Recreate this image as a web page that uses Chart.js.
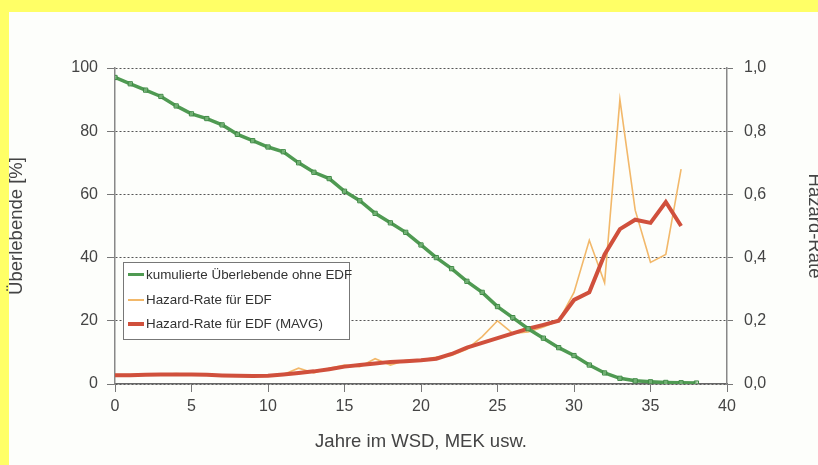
<!DOCTYPE html>
<html lang="de">
<head>
    <meta charset="UTF-8">
    <title>Überlebende und Hazard-Rate</title>
    <script src="https://cdn.jsdelivr.net/npm/chart.js"></script>
    <style>
        html, body {
            margin: 0;
            padding: 0;
            overflow: hidden;
            background: #ffff66; /* gelber Rand */
        }
        #panel {
            position: absolute;
            left: 9px;
            top: 12px;
            width: 830px;
            height: 460px;
            background: #fdfefb;
        }
        #chartBox {
            position: absolute;
            left: 0;
            top: 0;
        }
        #legend {
            position: absolute;
            left: 123px;
            top: 262px;
            width: 227px;
            height: 78px;
            border: 1px solid #777;
            background: #fff;
            font-family: 'Liberation Sans', Arial, sans-serif;
            font-size: 13.4px;
            color: #333;
            box-sizing: border-box;
            padding-top: 0px;
        }
        .row {
            height: 24.5px;
            line-height: 24.5px;
            white-space: nowrap;
            position: relative;
            padding-left: 22px;
        }
        .swatch {
            position: absolute;
            left: 4px;
            width: 16px;
            top: 12px;
        }
    </style>
</head>
<body>

    <div id="panel"></div>
    <div id="chartBox">
        <canvas id="myChart" width="830" height="465"></canvas>
    </div>
    <div id="legend"></div>

    <script>
        // Daten
        const jahre = [0, 1, 2, 3, 4, 5, 6, 7, 8, 9, 10, 11, 12, 13, 14, 15, 16, 17, 18, 19,
                       20, 21, 22, 23, 24, 25, 26, 27, 28, 29, 30, 31, 32, 33, 34, 35, 36, 37, 38];
        const ueberlebende = [97, 95, 93, 91, 88, 85.5, 84, 82, 79, 77, 75, 73.5, 70, 67, 65, 61, 58, 54, 51, 48,
                              44, 40, 36.5, 32.5, 29, 24.5, 21, 17.5, 14.5, 11.5, 9, 6, 3.5, 1.8, 1, 0.7, 0.5, 0.4, 0.3];
        const hazard = [0.03, 0.03, 0.032, 0.03, 0.033, 0.03, 0.028, 0.027, 0.025, 0.026, 0.028, 0.03, 0.05, 0.035, 0.05,
                        0.06, 0.055, 0.08, 0.06, 0.075, 0.075, 0.085, 0.09, 0.11, 0.15, 0.2, 0.16, 0.165, 0.18, 0.2,
                        0.29, 0.455, 0.32, 0.9, 0.55, 0.385, 0.41, 0.68];
        const hazardMavg = [0.028, 0.028, 0.029, 0.03, 0.03, 0.03, 0.029, 0.027, 0.026, 0.025, 0.026, 0.03, 0.035, 0.04, 0.047,
                            0.055, 0.06, 0.065, 0.07, 0.072, 0.075, 0.08, 0.095, 0.115, 0.13, 0.145, 0.16, 0.175, 0.187, 0.2,
                            0.266, 0.29, 0.41, 0.49, 0.52, 0.51, 0.576, 0.5];
        const xTicks = [0, 5, 10, 15, 20, 25, 30, 35, 40];
        const links = [0, 20, 40, 60, 80, 100];
        const rechts = ['0,0', '0,2', '0,4', '0,6', '0,8', '1,0'];

        const schrift = "'Liberation Sans', Arial, sans-serif";
        const gruen = '#4f9a52';
        const orange = '#f2b86a';
        const rot = '#d0503c';

        const punkte = (werte) => werte.map((v, i) => ({ x: jahre[i], y: v }));

        const ctx = document.getElementById('myChart').getContext('2d');
        const myChart = new Chart(ctx, {
            type: 'line',
            data: {
                datasets: [
                    {
                        label: 'kumulierte Überlebende ohne EDF',
                        data: punkte(ueberlebende),
                        yAxisID: 'y',
                        borderColor: gruen,
                        borderWidth: 3.5,
                        pointStyle: 'rect',
                        pointRadius: 3,
                        pointBorderWidth: 1,
                        pointBorderColor: '#3f8a45',
                        pointBackgroundColor: 'rgba(150,200,150,0.5)',
                        tension: 0,
                        order: 1
                    },
                    {
                        label: 'Hazard-Rate für EDF',
                        data: punkte(hazard),
                        yAxisID: 'y2',
                        borderColor: orange,
                        borderWidth: 1.6,
                        pointRadius: 0,
                        tension: 0,
                        order: 3
                    },
                    {
                        label: 'Hazard-Rate für EDF (MAVG)',
                        data: punkte(hazardMavg),
                        yAxisID: 'y2',
                        borderColor: rot,
                        borderWidth: 4,
                        pointRadius: 0,
                        tension: 0,
                        order: 2
                    }
                ]
            },
            options: {
                responsive: false,
                animation: false,
                layout: { padding: { top: 68, left: 0, right: 0, bottom: 0 } },
                plugins: {
                    legend: { display: false },
                    tooltip: { enabled: false }
                },
                scales: {
                    x: {
                        type: 'linear',
                        min: 0,
                        max: 40,
                        afterBuildTicks: (s) => { s.ticks = xTicks.map(v => ({ value: v })); },
                        afterFit: (s) => { s.height = 81; },
                        ticks: { color: '#444', font: { family: schrift, size: 16 }, padding: 5, maxRotation: 0 },
                        grid: { drawOnChartArea: false, drawTicks: true, tickLength: 8, tickColor: '#777' },
                        border: { color: '#666', width: 1.5 },
                        title: {
                            display: true,
                            text: 'Jahre im WSD, MEK usw.',
                            color: '#444',
                            font: { family: schrift, size: 18.5 },
                            padding: { top: 0, bottom: 12 }
                        }
                    },
                    y: {
                        position: 'left',
                        min: 0,
                        max: 100,
                        afterBuildTicks: (s) => { s.ticks = links.map(v => ({ value: v })); },
                        afterFit: (s) => { s.width = 115; },
                        ticks: { color: '#444', font: { family: schrift, size: 16 }, padding: 9 },
                        grid: { color: '#555', lineWidth: 1, tickLength: 8, tickColor: '#777', tickBorderDash: [] },
                        border: { color: '#888', width: 1.5, dash: [2, 2] },
                        title: {
                            display: true,
                            text: 'Überlebende [%]',
                            color: '#444',
                            font: { family: schrift, size: 18.5 },
                            padding: { top: 6, bottom: 0 }
                        }
                    },
                    y2: {
                        position: 'right',
                        min: 0,
                        max: 1,
                        afterBuildTicks: (s) => { s.ticks = rechts.map((t, i) => ({ value: i * 0.2 })); },
                        afterFit: (s) => { s.width = 830 - 727; },
                        ticks: {
                            color: '#444',
                            font: { family: schrift, size: 16 },
                            padding: 11,
                            callback: (v, i) => rechts[i]
                        },
                        grid: { drawOnChartArea: false, tickLength: 6, tickColor: '#777' },
                        border: { color: '#888', width: 1.5 },
                        title: {
                            display: true,
                            text: 'Hazard-Rate',
                            color: '#444',
                            font: { family: schrift, size: 18.5 },
                            padding: { top: 5, bottom: 0 }
                        }
                    }
                }
            }
        });

        // Legende im Diagramm (HTML, aus den Datensätzen gebaut)
        const legende = document.getElementById('legend');
        myChart.data.datasets.forEach((ds) => {
            const row = document.createElement('div');
            row.className = 'row';
            const sw = document.createElement('span');
            sw.className = 'swatch';
            const dicke = Math.max(2, ds.borderWidth);
            sw.style.borderTop = dicke + 'px solid ' + ds.borderColor;
            sw.style.marginTop = (-dicke / 2) + 'px';
            row.appendChild(sw);
            row.appendChild(document.createTextNode(ds.label));
            legende.appendChild(row);
        });
    </script>

</body>
</html>
